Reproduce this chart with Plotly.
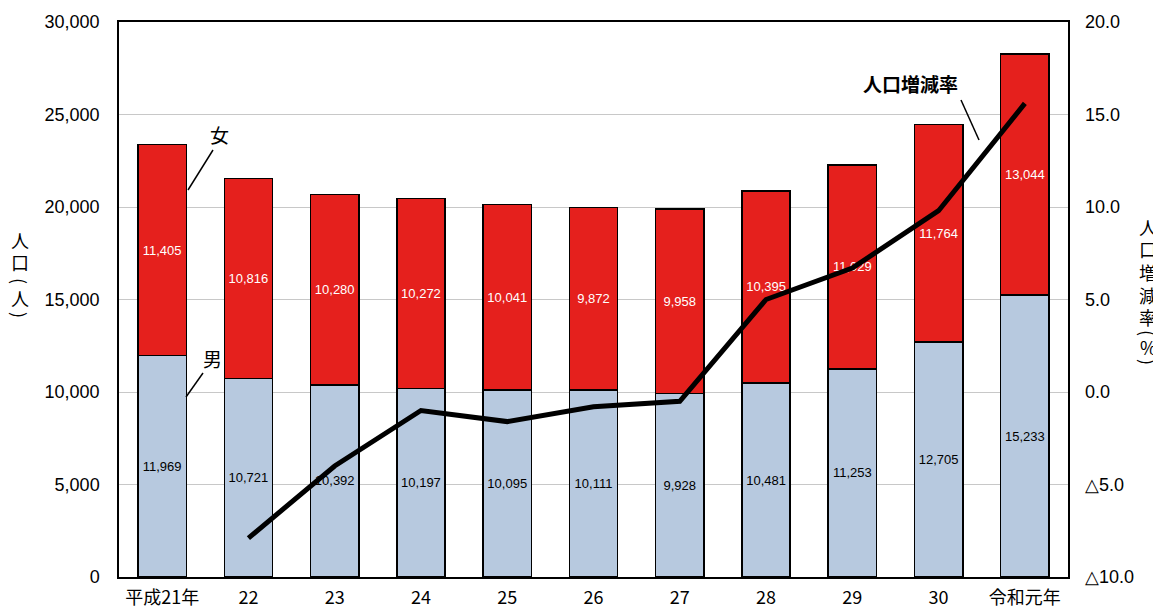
import plotly.graph_objects as go

years = ["平成21年", "22", "23", "24", "25", "26", "27", "28", "29", "30", "令和元年"]
male = [11969, 10721, 10392, 10197, 10095, 10111, 9928, 10481, 11253, 12705, 15233]
female = [11405, 10816, 10280, 10272, 10041, 9872, 9958, 10395, 11029, 11764, 13044]
rate = [None, -7.9, -4.0, -1.0, -1.6, -0.8, -0.5, 5.0, 6.7, 9.8, 15.6]

left_ticks = [0, 5000, 10000, 15000, 20000, 25000, 30000]
left_ticktext = ["0", "5,000", "10,000", "15,000", "20,000", "25,000", "30,000"]
right_ticks = [-10, -5, 0, 5, 10, 15, 20]
right_ticktext = ["△10.0", "△5.0", "0.0", "5.0", "10.0", "15.0", "20.0"]

num_font = "Liberation Sans, Arial, sans-serif"
jp_font = "Noto Sans CJK JP, sans-serif"

# page offset (default body margin of the html page)
OFF = 8
FIG_W, FIG_H = 1161 - OFF, 610 - OFF
# plot area in page pixels
L, R, T, B = 119, 1068, 22, 577
W, H = R - L, B - T


def px(x):
    return (x - L) / W


def py(y):
    return (B - y) / H


fig = go.Figure()
fig.add_trace(go.Bar(
    x=years, y=male, name="男",
    marker=dict(color="#b7c9df", line=dict(color="black", width=1.5)),
    text=[f"{v:,}" for v in male], textposition="inside", insidetextanchor="middle",
    textfont=dict(color="black", size=13, family=num_font), textangle=0,
    width=0.56,
))
fig.add_trace(go.Bar(
    x=years, y=female, name="女",
    marker=dict(color="#e5201d", line=dict(color="black", width=1.5)),
    text=[f"{v:,}" for v in female], textposition="inside", insidetextanchor="middle",
    textfont=dict(color="white", size=13, family=num_font), textangle=0,
    width=0.56,
))
fig.add_trace(go.Scatter(
    x=years, y=rate, yaxis="y2", mode="lines",
    line=dict(color="black", width=5), name="人口増減率", connectgaps=False,
))

fig.update_layout(
    width=FIG_W, height=FIG_H,
    barmode="stack", showlegend=False,
    plot_bgcolor="white", paper_bgcolor="white",
    margin=dict(l=L - OFF, r=FIG_W - (R - OFF), t=T - OFF, b=FIG_H - (B - OFF), autoexpand=False),
    uniformtext=dict(minsize=8, mode="show"),
    xaxis=dict(
        automargin=False,
        showline=True, linecolor="black", linewidth=1.5, mirror=True,
        ticks="", ticklabelstandoff=4,
        tickfont=dict(family=jp_font, size=18, color="black"),
    ),
    yaxis=dict(
        automargin=False,
        range=[0, 30000], tickvals=left_ticks, ticktext=left_ticktext,
        showgrid=True, gridcolor="#c8c8c8", gridwidth=1,
        showline=True, linecolor="black", linewidth=1.5, mirror=True,
        ticks="", ticklabelstandoff=14,
        tickfont=dict(family=num_font, size=18, color="black"),
        zeroline=False,
    ),
    yaxis2=dict(
        automargin=False,
        overlaying="y", side="right", range=[-10, 20],
        tickvals=right_ticks, ticktext=right_ticktext,
        showgrid=False, zeroline=False, ticks="", ticklabelstandoff=16,
        tickfont=dict(family=num_font, size=18, color="black"),
    ),
)

# vertical axis titles, one character per annotation (brackets rotated)
left_title = [("人", 240, 0), ("口", 262, 0), ("(", 281, 90), ("人", 298, 0), (")", 315, 90)]
for ch, y, ang in left_title:
    fig.add_annotation(xref="paper", yref="paper", x=px(20), y=py(y),
                       text=ch, showarrow=False, xanchor="center", yanchor="middle",
                       textangle=ang,
                       font=dict(family=jp_font, size=18, color="black"))
right_title = [("人", 227, 0), ("口", 249, 0), ("増", 272, 0), ("減", 295, 0), ("率", 317, 0),
               ("(", 333, 90), ("%", 347, 0), (")", 362, 90)]
for ch, y, ang in right_title:
    fig.add_annotation(xref="paper", yref="paper", x=px(1148), y=py(y),
                       text=ch, showarrow=False, xanchor="center", yanchor="middle",
                       textangle=ang,
                       font=dict(family=jp_font, size=18, color="black"))

# series labels with leader lines
fig.add_shape(type="line", xref="paper", yref="paper",
              x0=px(188), y0=py(190), x1=px(213), y1=py(150),
              line=dict(color="black", width=1.5))
fig.add_annotation(xref="paper", yref="paper", x=px(219), y=py(134),
                   xanchor="center", yanchor="middle",
                   text="女", showarrow=False, font=dict(family=jp_font, size=19, color="black"))
fig.add_shape(type="line", xref="paper", yref="paper",
              x0=px(186), y0=py(397), x1=px(203), y1=py(373),
              line=dict(color="black", width=1.5))
fig.add_annotation(xref="paper", yref="paper", x=px(212), y=py(358),
                   xanchor="center", yanchor="middle",
                   text="男", showarrow=False, font=dict(family=jp_font, size=19, color="black"))
fig.add_shape(type="line", xref="paper", yref="paper",
              x0=px(961), y0=py(100), x1=px(979), y1=py(140),
              line=dict(color="black", width=1.5))
fig.add_annotation(xref="paper", yref="paper", x=px(910), y=py(84),
                   xanchor="center", yanchor="middle",
                   text="<b>人口増減率</b>", showarrow=False,
                   font=dict(family=jp_font, size=19, color="black"))

fig.write_html("out.html")
